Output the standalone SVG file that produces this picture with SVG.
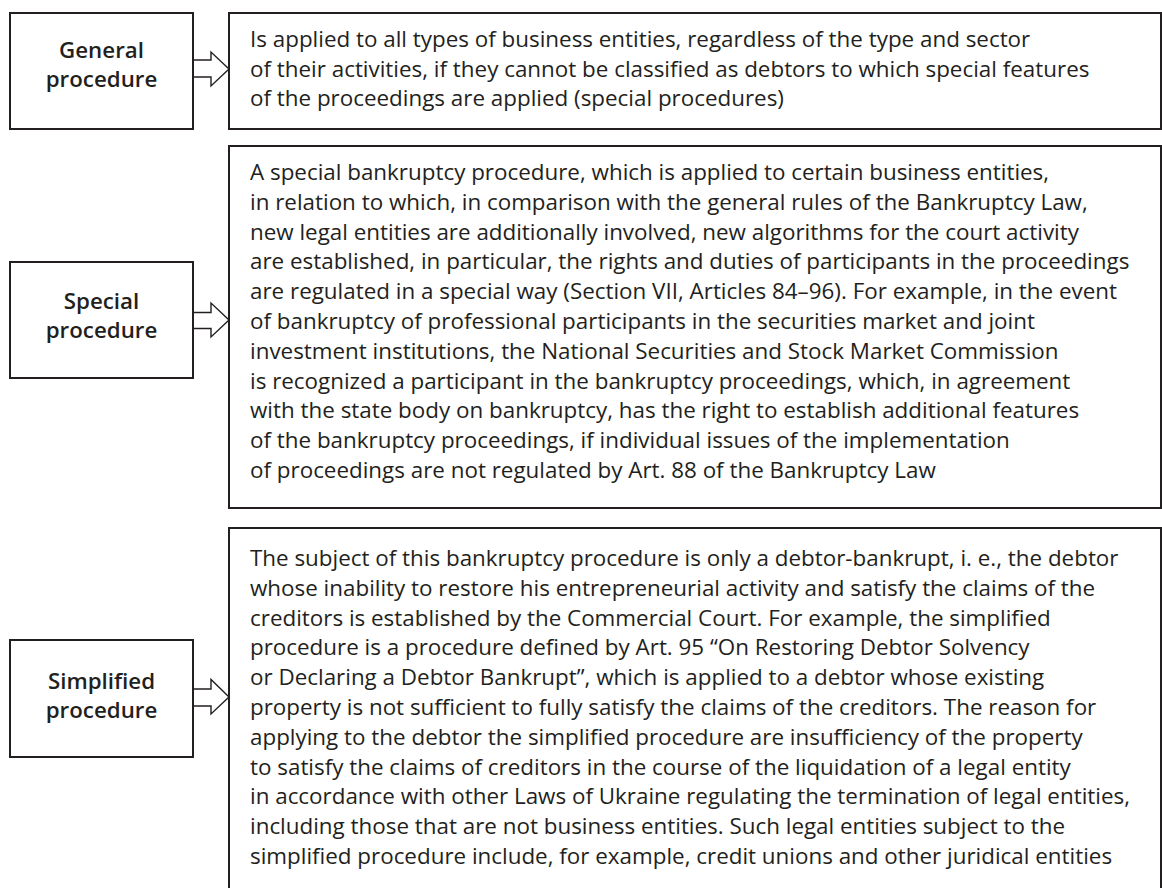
<svg xmlns="http://www.w3.org/2000/svg" width="1162" height="888" viewBox="0 0 1162 888">
  <style>
    .box { fill: #ffffff; stroke: #231f20; stroke-width: 2; }
    .arrow { fill: #ffffff; stroke: #231f20; stroke-width: 1.4; stroke-linejoin: miter; }
    .label { font-family: "Open Sans", "Noto Sans", sans-serif; font-weight: 600; font-size: 22.3px; fill: #231f20; text-anchor: middle; }
    .body { font-family: "Open Sans", "Noto Sans", sans-serif; font-size: 22.4px; fill: #231f20; }
  </style>
  <rect x="0" y="0" width="1162" height="888" fill="#ffffff"/>

  <g id="connectors">
    <path class="arrow" d="M193,60 H211 V52 L229,69 L211,86 V77 H193"/>
    <path class="arrow" d="M193,312.5 H211 V303 L229,320 L211,337 V328.5 H193"/>
    <path class="arrow" d="M193,689 H211 V679.5 L229,697 L211,714 V706 H193"/>
  </g>

  <g id="general-label">
    <rect class="box" x="10" y="13" width="183" height="116"/>
    <text class="label" x="101.5" y="58">General</text>
    <text class="label" x="101.5" y="87">procedure</text>
  </g>
  <g id="general-desc">
    <rect class="box" x="229" y="13" width="932" height="116"/>
    <text class="body" x="250" y="47">Is applied to all types of business entities, regardless of the type and sector</text>
    <text class="body" x="250" y="76.5">of their activities, if they cannot be classified as debtors to which special features</text>
    <text class="body" x="250" y="106">of the proceedings are applied (special procedures)</text>
  </g>

  <g id="special-label">
    <rect class="box" x="10" y="262" width="183" height="116"/>
    <text class="label" x="101.5" y="309">Special</text>
    <text class="label" x="101.5" y="338">procedure</text>
  </g>
  <g id="special-desc">
    <rect class="box" x="229" y="146" width="932" height="362"/>
    <text class="body" x="250" y="180">A special bankruptcy procedure, which is applied to certain business entities,</text>
    <text class="body" x="250" y="209.8">in relation to which, in comparison with the general rules of the Bankruptcy Law,</text>
    <text class="body" x="250" y="239.6">new legal entities are additionally involved, new algorithms for the court activity</text>
    <text class="body" x="250" y="269.4">are established, in particular, the rights and duties of participants in the proceedings</text>
    <text class="body" x="250" y="299.2">are regulated in a special way (Section VII, Articles 84–96). For example, in the event</text>
    <text class="body" x="250" y="329">of bankruptcy of professional participants in the securities market and joint</text>
    <text class="body" x="250" y="358.8">investment institutions, the National Securities and Stock Market Commission</text>
    <text class="body" x="250" y="388.6">is recognized a participant in the bankruptcy proceedings, which, in agreement</text>
    <text class="body" x="250" y="418.4">with the state body on bankruptcy, has the right to establish additional features</text>
    <text class="body" x="250" y="448.2">of the bankruptcy proceedings, if individual issues of the implementation</text>
    <text class="body" x="250" y="478">of proceedings are not regulated by Art. 88 of the Bankruptcy Law</text>
  </g>

  <g id="simplified-label">
    <rect class="box" x="10" y="640" width="183" height="117"/>
    <text class="label" x="101.5" y="689">Simplified</text>
    <text class="label" x="101.5" y="718">procedure</text>
  </g>
  <g id="simplified-desc">
    <rect class="box" x="229" y="528" width="932" height="380"/>
    <text class="body" x="250" y="566">The subject of this bankruptcy procedure is only a debtor-bankrupt, i. e., the debtor</text>
    <text class="body" x="250" y="595.8">whose inability to restore his entrepreneurial activity and satisfy the claims of the</text>
    <text class="body" x="250" y="625.6">creditors is established by the Commercial Court. For example, the simplified</text>
    <text class="body" x="250" y="655.4">procedure is a procedure defined by Art. 95 “On Restoring Debtor Solvency</text>
    <text class="body" x="250" y="685.2">or Declaring a Debtor Bankrupt”, which is applied to a debtor whose existing</text>
    <text class="body" x="250" y="715">property is not sufficient to fully satisfy the claims of the creditors. The reason for</text>
    <text class="body" x="250" y="744.8">applying to the debtor the simplified procedure are insufficiency of the property</text>
    <text class="body" x="250" y="774.6">to satisfy the claims of creditors in the course of the liquidation of a legal entity</text>
    <text class="body" x="250" y="804.4">in accordance with other Laws of Ukraine regulating the termination of legal entities,</text>
    <text class="body" x="250" y="834.2">including those that are not business entities. Such legal entities subject to the</text>
    <text class="body" x="250" y="864">simplified procedure include, for example, credit unions and other juridical entities</text>
  </g>
</svg>
